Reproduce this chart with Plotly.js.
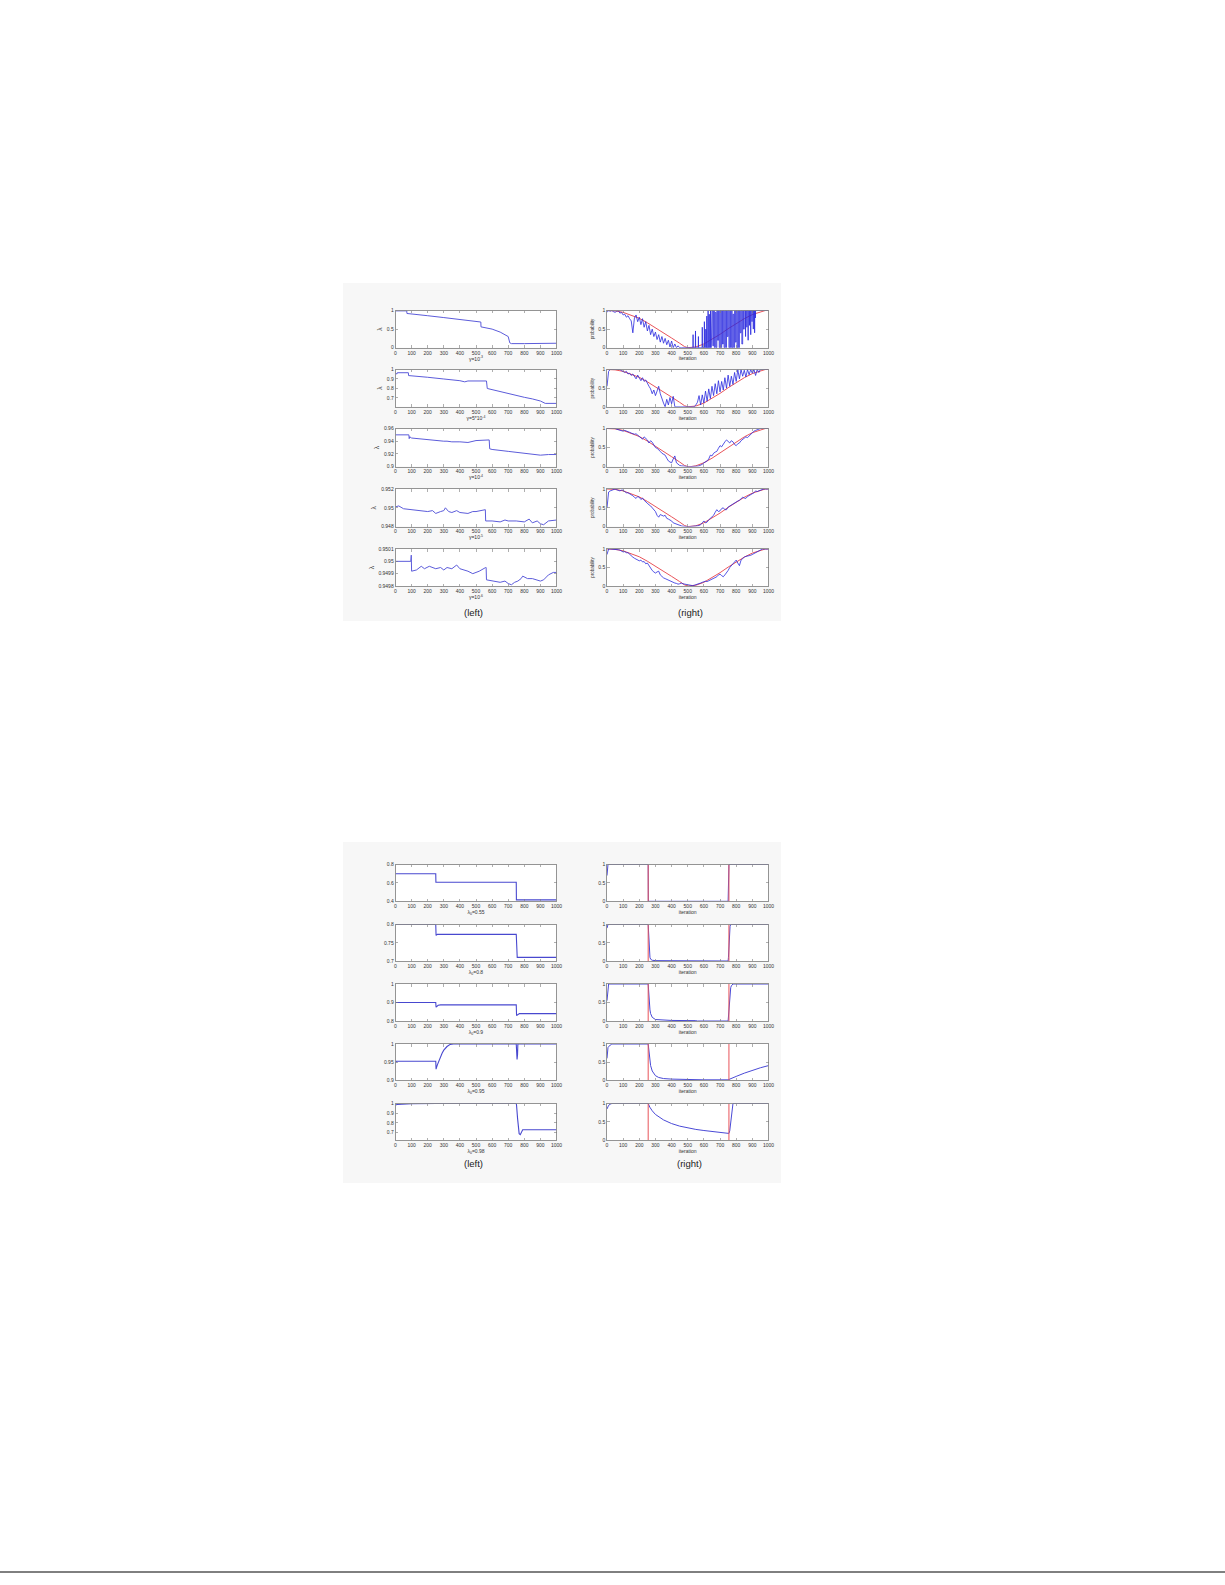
<!DOCTYPE html>
<html><head><meta charset="utf-8">
<script src="https://cdn.plot.ly/plotly-3.0.1.min.js"></script>
<style>html,body{margin:0;padding:0;background:#fff}#chart{width:1225px;height:1585px}</style>
</head><body><div id="chart"></div>
<script>
// ---------------- DATA ----------------
const xTickVals = [0,100,200,300,400,500,600,700,800,900,1000];
const xTickText = ['0','100','200','300','400','500','600','700','800','900','1000'];
const grid10 = [0,10,20,30,40,50,60,70,80,90,100,110,120,130,140,150,160,170,180,190,200,210,220,230,240,250,260,270,280,290,300,310,320,330,340,350,360,370,380,390,400,410,420,430,440,450,460,470,480,490,500,510,520,530,540,550,560,570,580,590,600,610,620,630,640,650,660,670,680,690,700,710,720,730,740,750,760,770,780,790,800,810,820,830,840,850,860,870,880,890,900,910,920,930,940,950,960,970,980,990,1000];

// Figure 1 (left column): lambda vs iteration
const g1LeftLabels = ['γ=10<sup>-3</sup>','γ=5*10<sup>-4</sup>','γ=10<sup>-4</sup>','γ=10<sup>-5</sup>','γ=10<sup>-6</sup>'];
const lam1X = [0,70,71,100,200,300,400,450,500,530,531,550,600,650,680,700,710,720,800,900,1000];
const lam1Y = [0.99,0.99,0.92,0.91,0.86,0.81,0.75,0.72,0.70,0.69,0.56,0.54,0.50,0.42,0.36,0.30,0.13,0.11,0.11,0.12,0.12];
const lam2X = [0,10,11,80,81,100,200,300,350,400,430,450,500,565,570,600,700,800,850,900,930,1000];
const lam2Y = [0.955,0.955,0.966,0.966,0.936,0.932,0.918,0.9,0.895,0.882,0.87,0.879,0.879,0.879,0.8,0.787,0.75,0.707,0.69,0.668,0.643,0.643];
const lam3X = [0,83,85,88,100,200,250,300,320,350,400,420,450,500,580,582,585,600,700,800,900,950,1000];
const lam3Y = [0.95,0.95,0.944,0.947,0.945,0.942,0.941,0.94,0.94,0.939,0.939,0.939,0.938,0.941,0.942,0.942,0.928,0.927,0.924,0.921,0.918,0.919,0.919];
const lam4X = [0,20,50,100,150,200,230,250,280,300,310,330,350,380,400,450,480,500,558,560,600,650,680,700,750,800,830,850,880,900,920,950,1000];
const lam4Y = [0.9501,0.9502,0.9499,0.9498,0.9497,0.9496,0.9497,0.9494,0.9496,0.9497,0.95,0.9496,0.9495,0.9497,0.9495,0.9494,0.9496,0.9496,0.9498,0.9486,0.9486,0.9485,0.9487,0.9486,0.9486,0.9485,0.9488,0.9484,0.9486,0.9483,0.9482,0.9486,0.9487];
const lam5X = [0,95,98,100,130,160,180,210,250,280,300,320,350,380,400,450,480,520,560,563,565,600,650,680,700,720,740,760,780,790,820,850,880,900,920,950,980,1000];
const lam5Y = [0.95,0.95,0.95005,0.94992,0.94993,0.94996,0.94994,0.94996,0.94994,0.94995,0.94993,0.94995,0.94994,0.94997,0.94994,0.94992,0.9499,0.94992,0.94995,0.94995,0.94985,0.94984,0.94983,0.94984,0.94982,0.94981,0.94983,0.94984,0.94986,0.94988,0.94986,0.94986,0.94985,0.94984,0.94985,0.94989,0.94991,0.94991];

// Figure 1 (right column): probability vs iteration
const trueProbX = [0,50,100,150,200,250,300,350,400,450,480,500,520,550,600,650,700,750,800,850,900,950,980,1000];
const trueProbY = [1,0.99,0.95,0.88,0.79,0.67,0.54,0.4,0.26,0.12,0.03,0,0,0.02,0.1,0.22,0.36,0.51,0.65,0.78,0.89,0.97,1,1];
// top panel, gamma=1e-3: noisy estimate, oscillating between 0 and 1 after ~530
const prob1X_a = [0,10,20,30,40,50,60,70,80,90,100,110,120,130,140,150,160,170,180,190,200,210,220,230,240,250,260,270,280,290,300,310,320,330,340,350,360,370,380,390,400,410,420,430,440,450,460,470,480,490,500,510,520];
const prob1Y_a = [0.95,1,0.98,1,0.97,0.95,0.98,1,0.93,0.95,0.88,0.9,0.82,0.86,0.78,0.72,0.4,0.8,0.88,0.7,0.82,0.62,0.78,0.55,0.7,0.45,0.6,0.35,0.5,0.3,0.42,0.22,0.35,0.15,0.3,0.12,0.25,0.08,0.2,0.02,0.18,0,0.1,0,0.05,0,0,0,0,0,0,0,0];
const prob1X_b = [532,533,534,547,548,549,565,566,567,589,590,591,602,603,604,611,612,613,617,618,619,625,626,627,632,633,634,640,641,642,646,647,648];
const prob1Y_b = [0,0.35,0,0,0.45,0,0,0.3,0,0,0.55,0,0,0.7,0,0,0.5,0,0,0.85,0,0,1,0,0,0.9,0,0,1,0,0,1,0];
const prob1X_c = [650,650,655,655,660,660,665,665,670,670,675,675,680,680,685,685,690,690,695,695,700,700,705,705,710,710,715,715,720,720,725,725,730,730,735,735,740,740,745,745,750,750,755,755,760,760,765,765,770,770,775,775,780,780,785,785,790,790,795,795,800,800,805,805,810,810,815,815,820,820,825,825,830,830,835,835,840,840,845,845,850,850];
const prob1Y_c = [0,1,1,0.05,0.05,1,1,0,0,0.95,0.95,0,0,1,1,0.2,0.2,1,1,0,0,1,1,0,0,1,1,0.1,0.1,1,1,0,0,1,1,0,0,1,1,0.3,0.3,1,1,0,0,1,1,0,0,1,1,0,0,0.9,0.9,0,0,1,1,0.15,0.15,1,1,0,0,1,1,0,0,1,1,0.4,0.4,1,1,0.1,0.1,1,1,0.5,0.5,1];
const prob1X_d = [857,858,859,865,866,867,873,874,875,881,882,883,889,890,891,897,898,899,905,906,907,913,914,915,918,919,920,930,940,950,960,970,980,990,1000];
const prob1Y_d = [1,0.3,1,1,0.55,1,1,0.2,1,1,0.6,1,1,0.35,1,1,0.7,1,1,0.5,1,1,0.4,1,1,0.8,1,1,1,1,1,1,1,1,1];
const prob2Y = [0.55,0.95,1,1,1,1,0.98,1,1,0.97,0.95,0.92,0.95,0.88,0.9,0.84,0.88,0.82,0.75,0.85,0.78,0.7,0.78,0.68,0.72,0.62,0.55,0.48,0.35,0.45,0.3,0.42,0.55,0.35,0.2,0.1,0,0.2,0.05,0.25,0.08,0.28,0,0,0,0,0,0,0,0,0,0,0,0,0,0.05,0.12,0.3,0.05,0.32,0.1,0.42,0.15,0.48,0.22,0.55,0.3,0.62,0.35,0.7,0.4,0.68,0.45,0.78,0.5,0.85,0.55,0.82,0.6,0.92,0.68,1,0.75,1,0.82,0.98,0.8,1,0.86,1,0.9,1,0.84,1,0.92,1,1,1,1,1,1];
const prob3Y = [1,1,1,1,1,1,0.98,0.97,0.95,0.94,0.93,0.95,0.94,0.92,0.9,0.88,0.87,0.85,0.86,0.82,0.78,0.75,0.72,0.78,0.75,0.7,0.62,0.68,0.64,0.55,0.5,0.48,0.45,0.4,0.35,0.33,0.3,0.22,0.15,0.12,0.1,0.2,0.28,0.1,0.05,0.03,0.02,0.01,0,0,0,0,0,0,0,0,0.01,0.02,0.03,0.06,0.1,0.12,0.15,0.2,0.3,0.28,0.35,0.38,0.4,0.48,0.55,0.52,0.6,0.65,0.7,0.65,0.62,0.68,0.65,0.58,0.55,0.6,0.62,0.68,0.72,0.75,0.78,0.76,0.8,0.85,0.9,0.93,0.95,0.97,1,1,1,1,1,1,1];
const prob4Y = [0.5,0.92,0.95,0.97,1,1,0.98,0.96,0.95,0.97,0.97,0.93,0.9,0.9,0.88,0.85,0.82,0.78,0.75,0.8,0.78,0.72,0.76,0.7,0.65,0.6,0.58,0.55,0.5,0.45,0.4,0.3,0.25,0.32,0.3,0.28,0.3,0.22,0.2,0.18,0.15,0.1,0.08,0.07,0.05,0.04,0.02,0.01,0,0,0,0,0,0,0.01,0.01,0.02,0.03,0.05,0.1,0.15,0.1,0.12,0.18,0.22,0.25,0.3,0.38,0.45,0.4,0.42,0.48,0.5,0.45,0.45,0.52,0.55,0.58,0.6,0.62,0.65,0.68,0.7,0.75,0.78,0.76,0.75,0.8,0.82,0.85,0.88,0.9,0.95,0.93,0.95,0.97,1,1,1,1,1];
const prob5Y = [0.85,1,1,1,1,1,1,0.98,0.97,0.95,0.92,0.93,0.9,0.9,0.85,0.8,0.78,0.75,0.72,0.7,0.68,0.7,0.65,0.66,0.6,0.62,0.55,0.5,0.42,0.38,0.35,0.38,0.4,0.3,0.25,0.22,0.2,0.18,0.15,0.13,0.1,0.09,0.08,0.07,0.05,0.06,0.08,0.06,0.05,0.03,0.02,0.01,0,0.01,0.02,0.03,0.05,0.06,0.08,0.1,0.12,0.13,0.12,0.14,0.15,0.18,0.2,0.22,0.25,0.3,0.32,0.28,0.25,0.3,0.35,0.42,0.5,0.55,0.62,0.66,0.7,0.62,0.55,0.7,0.75,0.78,0.8,0.8,0.82,0.83,0.85,0.87,0.9,0.92,0.95,0.97,1,1,1,1,1];

// Figure 2 (left column): lambda vs iteration for different lambda_0
const g2LeftLabels = ['λ<sub>0</sub>=0.55','λ<sub>0</sub>=0.8','λ<sub>0</sub>=0.9','λ<sub>0</sub>=0.95','λ<sub>0</sub>=0.98'];
const l0a_X = [0,250,251,750,751,1000];
const l0a_Y = [0.7,0.7,0.607,0.607,0.415,0.415];
const l0b_X = [0,250,252,256,260,750,752,756,1000];
const l0b_Y = [0.8,0.8,0.77,0.773,0.773,0.773,0.712,0.71,0.71];
const l0c_X = [0,250,252,258,265,280,750,752,758,770,1000];
const l0c_Y = [0.9,0.9,0.875,0.88,0.885,0.887,0.887,0.83,0.835,0.84,0.84];
const l0d_X = [0,5,250,252,255,260,270,280,290,300,320,340,360,750,752,755,758,760,1000];
const l0d_Y = [0.948,0.952,0.952,0.93,0.935,0.942,0.955,0.966,0.975,0.983,0.993,0.999,1,1,0.975,0.957,0.97,1,1];
const l0e_X = [0,10,100,200,250,255,750,752,758,763,768,775,790,1000];
const l0e_Y = [0.985,0.99,0.998,1,1,1,1,0.98,0.85,0.74,0.69,0.68,0.73,0.73];

// Figure 2 (right column): probability, change points
const changePoints = [255,755];
const p0a_X = [0,3,6,255,256,750,752,755,1000];
const p0a_Y = [0.7,0.95,1,1,0,0,0.4,1,1];
const p0b_X = [0,3,6,255,258,262,266,270,280,300,400,750,752,755,758,762,766,1000];
const p0b_Y = [0.9,1,1,1,0.7,0.3,0.1,0.05,0.02,0.01,0.005,0,0.1,0.4,0.75,0.95,1,1];
const p0c_X = [0,3,6,10,255,258,262,266,270,280,300,350,400,550,560,750,752,755,758,762,766,770,780,1000];
const p0c_Y = [0.55,0.8,0.95,1,1,0.75,0.45,0.3,0.2,0.1,0.04,0.02,0.015,0.01,0,0,0.1,0.35,0.6,0.8,0.9,0.95,1,1];
const p0d_X = [0,3,6,10,20,30,255,258,262,266,270,280,290,300,320,350,400,450,500,600,750,760,800,850,900,950,1000];
const p0d_Y = [0.6,0.8,0.9,0.93,0.97,1,1,0.85,0.65,0.5,0.4,0.25,0.17,0.12,0.07,0.04,0.025,0.018,0.012,0.005,0.005,0.02,0.1,0.19,0.27,0.34,0.4];
const p0e_X = [0,5,10,20,30,255,257,265,280,300,350,400,450,500,550,600,650,700,750,755,760,765,770,775,780,1000];
const p0e_Y = [0.85,0.92,0.95,0.98,1,1,0.97,0.9,0.8,0.7,0.55,0.45,0.38,0.33,0.29,0.26,0.23,0.2,0.18,0.18,0.25,0.45,0.7,0.9,1,1];

// ---------------- LAYOUT ----------------
const W = 1225, H = 1585;
const FONT = 'Liberation Sans, Arial, sans-serif';
const LX = [395.5, 556.5], RX = [607, 768.5];
const G1T = [310.5, 369.5, 428.5, 489, 549], G1B = [347.7, 406.8, 466.6, 526.6, 586];
const G2T = [864.5, 924.5, 984, 1044, 1103.5], G2B = [901.3, 961, 1021, 1080, 1140];
const BLUE_L = '#5c5cda', BLUE_R = '#2a2ade', RED = '#e8545a';

const prob1X = prob1X_a.concat(prob1X_b, prob1X_c, prob1X_d);
const prob1Y = prob1Y_a.concat(prob1Y_b, prob1Y_c, prob1Y_d);

const panels = [];
const g1Left = [
  {s:[[lam1X,lam1Y]], r:[0,1], tv:[0,0.5,1], tt:['0','0.5','1']},
  {s:[[lam2X,lam2Y]], r:[0.607,1], tv:[0.7,0.8,0.9,1], tt:['0.7','0.8','0.9','1']},
  {s:[[lam3X,lam3Y]], r:[0.9,0.96], tv:[0.9,0.92,0.94,0.96], tt:['0.9','0.92','0.94','0.96']},
  {s:[[lam4X,lam4Y]], r:[0.948,0.952], tv:[0.948,0.95,0.952], tt:['0.948','0.95','0.952']},
  {s:[[lam5X,lam5Y]], r:[0.9498,0.9501], tv:[0.9498,0.9499,0.95,0.9501], tt:['0.9498','0.9499','0.95','0.9501']}
];
const g1RightBlue = [[prob1X,prob1Y],[grid10,prob2Y],[grid10,prob3Y],[grid10,prob4Y],[grid10,prob5Y]];
const g2Left = [
  {s:[[l0a_X,l0a_Y]], r:[0.4,0.8], tv:[0.4,0.6,0.8], tt:['0.4','0.6','0.8']},
  {s:[[l0b_X,l0b_Y]], r:[0.7,0.8], tv:[0.7,0.75,0.8], tt:['0.7','0.75','0.8']},
  {s:[[l0c_X,l0c_Y]], r:[0.8,1], tv:[0.8,0.9,1], tt:['0.8','0.9','1']},
  {s:[[l0d_X,l0d_Y]], r:[0.9,1], tv:[0.9,0.95,1], tt:['0.9','0.95','1']},
  {s:[[l0e_X,l0e_Y]], r:[0.625,1], tv:[0.7,0.8,0.9,1], tt:['0.7','0.8','0.9','1']}
];
const g2RightBlue = [[p0a_X,p0a_Y],[p0b_X,p0b_Y],[p0c_X,p0c_Y],[p0d_X,p0d_Y],[p0e_X,p0e_Y]];

for (let i=0;i<5;i++) panels.push({xp:LX, t:G1T[i], b:G1B[i], lines:g1Left[i].s.map(s=>({x:s[0],y:s[1],c:BLUE_L,w:1})), r:g1Left[i].r, tv:g1Left[i].tv, tt:g1Left[i].tt, xl:g1LeftLabels[i], yl:'λ'});
for (let i=0;i<5;i++) panels.push({xp:RX, t:G1T[i], b:G1B[i], lines:[{x:trueProbX,y:trueProbY,c:RED,w:1},{x:g1RightBlue[i][0],y:g1RightBlue[i][1],c:BLUE_R,w:0.8}], r:[0,1], tv:[0,0.5,1], tt:['0','0.5','1'], xl:'iteration', yl:'probability'});
for (let i=0;i<5;i++) panels.push({xp:LX, t:G2T[i], b:G2B[i], lines:g2Left[i].s.map(s=>({x:s[0],y:s[1],c:'#4848cf',w:1.1})), r:g2Left[i].r, tv:g2Left[i].tv, tt:g2Left[i].tt, xl:g2LeftLabels[i], yl:null});
for (let i=0;i<5;i++) panels.push({xp:RX, t:G2T[i], b:G2B[i], lines:[
  {x:g2RightBlue[i][0],y:g2RightBlue[i][1],c:'#4a4ad6',w:1},
  {x:[changePoints[0],changePoints[0]],y:[0,1],c:RED,w:1},
  {x:[changePoints[1],changePoints[1]],y:[0,1],c:RED,w:1}], r:[0,1], tv:[0,0.5,1], tt:['0','0.5','1'], xl:'iteration', yl:null});

const traces = [], annotations = [];
const shapes = [
  {type:'rect', xref:'paper', yref:'paper', x0:343/W, x1:781/W, y0:1-621/H, y1:1-283/H, fillcolor:'#f7f7f7', line:{width:0}, layer:'below'},
  {type:'rect', xref:'paper', yref:'paper', x0:343/W, x1:781/W, y0:1-1183/H, y1:1-842/H, fillcolor:'#f7f7f7', line:{width:0}, layer:'below'},
  {type:'line', xref:'paper', yref:'paper', x0:0, x1:1, y0:1-1572/H, y1:1-1572/H, line:{color:'#000000', width:1}}
];
const layout = {
  width:W, height:H, margin:{l:0,r:0,t:0,b:0}, showlegend:false,
  paper_bgcolor:'#ffffff', plot_bgcolor:'#ffffff',
  font:{family:FONT, size:5, color:'#222'}
};
panels.forEach((p,k)=>{
  const n = k+1, xs = n===1?'':String(n);
  const xa = 'x'+xs, ya = 'y'+xs;
  const axCommon = {showline:true, mirror:'ticks', linecolor:'#7a7a7a', linewidth:0.8, ticks:'inside', ticklen:2.5, tickwidth:0.6, tickcolor:'#7a7a7a', showgrid:false, zeroline:false, tickfont:{family:FONT,size:5,color:'#333'}, fixedrange:true, automargin:false};
  layout['xaxis'+xs] = Object.assign({}, axCommon, {domain:[p.xp[0]/W, p.xp[1]/W], anchor:ya, range:[0,1000], tickmode:'array', tickvals:xTickVals, ticktext:xTickText,
    title:{text:p.xl, font:{family:FONT,size:5,color:'#333'}, standoff:1.5}});
  layout['yaxis'+xs] = Object.assign({}, axCommon, {domain:[1-p.b/H, 1-p.t/H], anchor:xa, range:p.r, tickmode:'array', tickvals:p.tv, ticktext:p.tt});
  if (p.yl) layout['yaxis'+xs].title = {text:p.yl, font:{family:FONT,size:p.yl==='λ'?6.5:4.5,color:'#333'}, standoff:3};
  shapes.push({type:'rect', xref:xa+' domain', yref:ya+' domain', x0:0, x1:1, y0:0, y1:1, fillcolor:'#ffffff', line:{width:0}, layer:'below'});
  p.lines.forEach(l=>traces.push({type:'scatter', mode:'lines', x:l.x, y:l.y, xaxis:xa, yaxis:ya, line:{color:l.c, width:l.w}, hoverinfo:'skip'}));
});
[['(left)',474,613],['(right)',690,613],['(left)',474,1163],['(right)',689,1163]].forEach(a=>{
  annotations.push({xref:'paper', yref:'paper', x:a[1]/W, y:1-a[2]/H, xanchor:'center', yanchor:'middle', showarrow:false, text:a[0], font:{family:FONT,size:9.5,color:'#222'}});
});
layout.shapes = shapes;
layout.annotations = annotations;
Plotly.newPlot('chart', traces, layout, {staticPlot:true, displayModeBar:false});
</script></body></html>
